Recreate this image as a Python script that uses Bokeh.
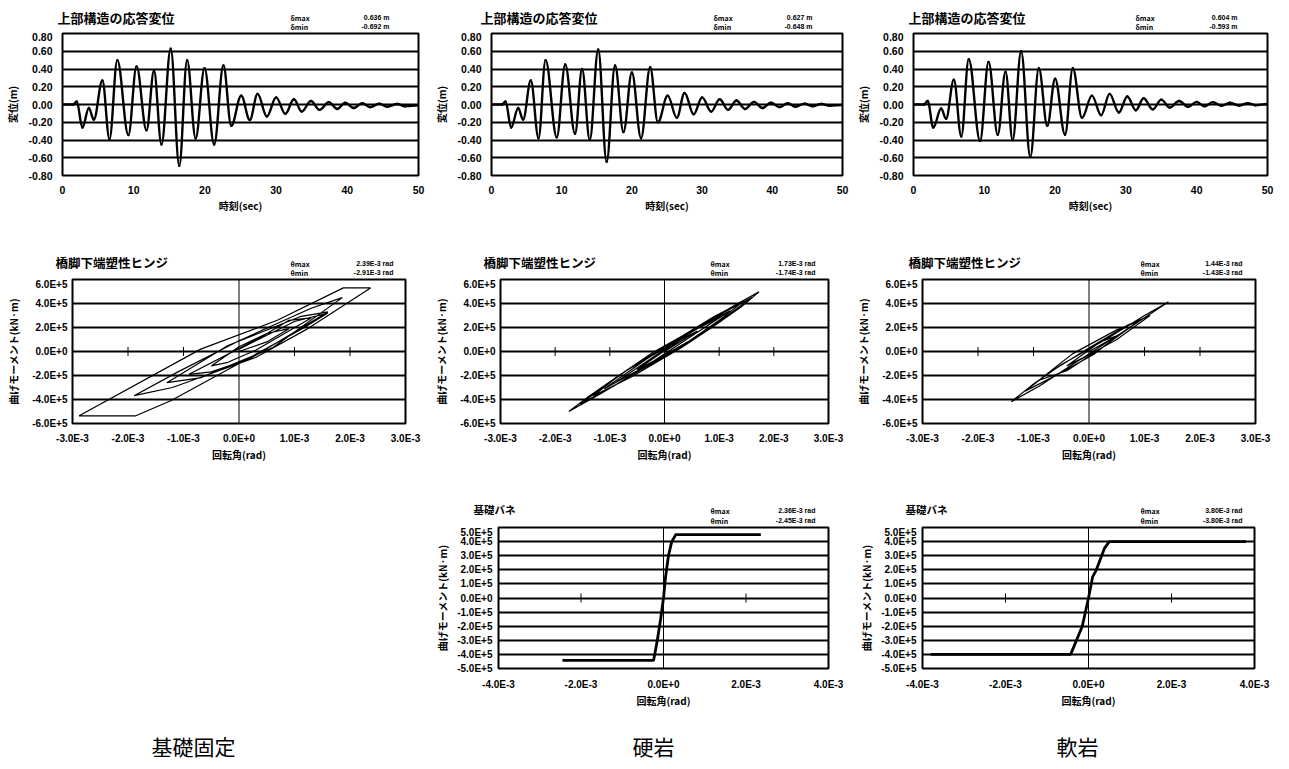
import numpy as np
from bokeh.plotting import figure
from bokeh.models import Label, FixedTicker, Span, Spacer, CustomJSTickFormatter, Range1d
from bokeh.layouts import column, row
from bokeh.embed import file_html
from bokeh.resources import INLINE

JP = "Noto Sans CJK JP"
NUM = "Liberation Sans"

# ---------------- tick labels ----------------
time_ticks = [0, 10, 20, 30, 40, 50]
time_labels = ["0", "10", "20", "30", "40", "50"]
disp_ticks = [-0.8, -0.6, -0.4, -0.2, 0.0, 0.2, 0.4, 0.6, 0.8]
disp_labels = ["-0.80", "-0.60", "-0.40", "-0.20", "0.00", "0.20", "0.40", "0.60", "0.80"]
hinge_x_ticks = [-3e-3, -2e-3, -1e-3, 0.0, 1e-3, 2e-3, 3e-3]
hinge_x_labels = ["-3.0E-3", "-2.0E-3", "-1.0E-3", "0.0E+0", "1.0E-3", "2.0E-3", "3.0E-3"]
hinge_y_ticks = [-6e5, -4e5, -2e5, 0.0, 2e5, 4e5, 6e5]
hinge_y_labels = ["-6.0E+5", "-4.0E+5", "-2.0E+5", "0.0E+0", "2.0E+5", "4.0E+5", "6.0E+5"]
spring_x_ticks = [-4e-3, -2e-3, 0.0, 2e-3, 4e-3]
spring_x_labels = ["-4.0E-3", "-2.0E-3", "0.0E+0", "2.0E-3", "4.0E-3"]
spring_y_ticks = [-5e5, -4e5, -3e5, -2e5, -1e5, 0.0, 1e5, 2e5, 3e5, 4e5, 5e5]
spring_y_labels = ["-5.0E+5", "-4.0E+5", "-3.0E+5", "-2.0E+5", "-1.0E+5", "0.0E+0",
                   "1.0E+5", "2.0E+5", "3.0E+5", "4.0E+5", "5.0E+5"]

# ---------------- texts ----------------
case_names = ["基礎固定", "硬岩", "軟岩"]
title_disp = "上部構造の応答変位"
title_hinge = "橋脚下端塑性ヒンジ"
title_spring = "基礎バネ"
disp_max = ["0.636 m", "0.627 m", "0.604 m"]
disp_min = ["-0.692 m", "-0.648 m", "-0.593 m"]
hinge_max = ["2.39E-3 rad", "1.73E-3 rad", "1.44E-3 rad"]
hinge_min = ["-2.91E-3 rad", "-1.74E-3 rad", "-1.43E-3 rad"]
spring_max = ["2.36E-3 rad", "3.80E-3 rad"]
spring_min = ["-2.45E-3 rad", "-3.80E-3 rad"]

# ---------------- displacement histories (turning points: sec, m) ----------------
t_fixed = [0, 1.5, 2.0, 2.8, 3.7, 4.4, 5.6, 6.6, 7.7, 9.25, 10.4, 11.8, 12.85, 13.9, 15.2, 16.4,
           17.5, 18.7, 19.95, 21.3, 22.6, 23.7, 25.1, 26.3, 27.4, 28.7, 30.0, 31.3, 32.5, 33.6,
           34.9, 36.1, 37.4, 38.6, 39.7, 40.9, 42.1, 43.2, 44.5, 45.6, 47.0, 48.1, 50.0]
d_fixed = [0, 0, 0.035, -0.26, -0.04, -0.17, 0.27, -0.39, 0.50, -0.345, 0.43, -0.29, 0.38, -0.45,
           0.63, -0.69, 0.50, -0.38, 0.41, -0.45, 0.44, -0.24, 0.10, -0.175, 0.12, -0.135, 0.08,
           -0.105, 0.06, -0.08, 0.04, -0.06, 0.027, -0.05, 0.02, -0.04, 0.015, -0.03, 0.01,
           -0.025, 0.005, -0.02, -0.01]
t_hard = [0, 1.5, 2.0, 2.8, 3.8, 4.5, 5.6, 6.7, 7.7, 9.3, 10.5, 11.9, 12.9, 14.0, 15.2, 16.4,
          17.6, 18.8, 20.0, 21.3, 22.6, 23.7, 25.1, 26.4, 27.5, 28.8, 30.0, 31.3, 32.5, 33.7,
          34.9, 36.1, 37.4, 38.6, 39.8, 41.0, 42.2, 43.3, 44.6, 45.7, 47.0, 48.2, 50.0]
d_hard = [0, 0, 0.035, -0.26, -0.04, -0.17, 0.27, -0.38, 0.50, -0.37, 0.45, -0.33, 0.40, -0.40,
          0.62, -0.645, 0.44, -0.31, 0.36, -0.38, 0.42, -0.20, 0.10, -0.15, 0.13, -0.11, 0.08,
          -0.08, 0.06, -0.06, 0.045, -0.05, 0.03, -0.04, 0.02, -0.03, 0.015, -0.025, 0.01,
          -0.02, 0.005, -0.015, -0.005]
t_soft = [0, 1.5, 2.0, 2.8, 3.9, 4.6, 5.7, 6.75, 7.8, 9.4, 10.6, 11.9, 13.0, 14.0, 15.2, 16.5,
          17.7, 18.9, 20.0, 21.4, 22.5, 23.8, 25.2, 26.5, 27.7, 29.0, 30.2, 31.4, 32.5, 33.8,
          35.0, 36.2, 37.5, 38.8, 40.0, 41.1, 42.3, 43.5, 44.7, 46.0, 47.2, 48.3, 50.0]
d_soft = [0, 0, 0.04, -0.26, -0.045, -0.16, 0.28, -0.36, 0.51, -0.41, 0.48, -0.34, 0.37, -0.40,
          0.60, -0.59, 0.41, -0.24, 0.29, -0.34, 0.41, -0.15, 0.10, -0.12, 0.12, -0.09, 0.09,
          -0.065, 0.07, -0.055, 0.055, -0.035, 0.04, -0.027, 0.03, -0.02, 0.027, -0.015, 0.02,
          -0.012, 0.015, -0.008, 0.005]

# ---------------- pier-base hinge (rotation 1e-3 rad, moment 1e5 kN·m) ----------------
hinge_th_fixed = [0.0, 0.5, 0.9, 0.5, 0.0, -0.5, -0.2, 0.3,
                  1.3, 0.9, 0.4, -0.9, -0.5, 0.2,
                  1.6, 1.1, -0.2, -1.3, -0.7, 0.6,
                  1.86, 1.3, 0.0, -1.1, -1.89, -1.2, 0.3, 1.2,
                  2.37, 1.88, 0.69, -0.69, -2.88, -1.86, -1.23, 0.0, 1.14, 1.6, 1.0, 0.0]
hinge_m_fixed = [0.0, 0.8, 1.9, 1.5, 0.4, -1.2, -0.9, 0.1,
                 2.8, 2.6, 1.2, -1.9, -1.7, -0.6,
                 3.3, 2.9, 0.5, -2.6, -2.2, 0.3,
                 4.49, 3.6, 0.9, -1.7, -3.68, -3.0, -0.5, 1.8,
                 5.3, 5.3, 2.6, 0.2, -5.36, -5.36, -4.1, -1.0, 1.9, 3.2, 2.5, 0.2]
hinge_th_hard = [0.0, 0.6, 0.3, -0.5, -0.2, 1.0, 0.5, -0.9, -0.4, 1.2, 0.7, -0.1, -1.1, -0.5,
                 0.3, 1.0, 1.45, 0.9, 0.0, -0.8, -1.3, -0.6, 0.3, 0.9, 1.4, 1.73, 1.3, 0.6,
                 -0.2, -0.9, -1.4, -1.75, -1.2, -0.5, 0.2, 1.0, 1.6, 1.1, 0.2, -0.7, -1.55, -0.9,
                 0.0, 0.5]
hinge_m_hard = [0.0, 1.7, 1.0, -1.5, -0.8, 2.8, 1.7, -2.6, -1.4, 3.4, 2.2, 0.1, -3.1, -1.6,
                0.4, 2.6, 4.2, 2.9, 0.4, -1.9, -3.7, -2.1, 0.3, 2.1, 3.7, 4.97, 3.9, 2.0,
                -0.05, -2.2, -3.8, -5.0, -3.6, -1.7, 0.1, 2.5, 4.5, 3.3, 0.8, -1.6, -4.4, -2.8,
                -0.3, 1.0]
hinge_th_soft = [0.0, 0.5, 0.2, -0.4, -0.1, 0.9, 0.5, -0.3, -0.9, -0.4, 0.2, 0.8, 1.43, 1.0,
                 0.3, -0.5, -1.0, -1.40, -0.9, -0.2, 0.5, 1.1, 0.7, 0.0, -0.7, -1.15, -0.6,
                 0.1, 0.4]
hinge_m_soft = [0.0, 1.3, 0.8, -1.2, -0.5, 2.5, 1.8, -0.2, -2.4, -1.6, 0.2, 2.2, 4.13, 3.0,
                1.0, -1.1, -2.7, -4.18, -2.9, -0.8, 1.0, 3.0, 2.2, 0.3, -1.7, -3.3, -2.0,
                -0.2, 0.9]

# ---------------- foundation spring (rotation 1e-3 rad, moment 1e5 kN·m) ----------------
spring_th_hard = [-2.45, -0.24, -0.15, -0.07, 0.0, 0.05, 0.12, 0.2, 0.3, 2.36]
spring_m_hard = [-4.43, -4.43, -3.0, -1.5, 0.0, 1.5, 3.0, 4.0, 4.5, 4.5]
spring_th_soft = [-3.80, -0.43, -0.15, 0.0, 0.1, 0.19, 0.38, 0.5, 3.80]
spring_m_soft = [-4.0, -4.0, -2.0, 0.0, 1.5, 2.0, 3.5, 4.0, 4.0]


def fmt(ticks, labels):
    return CustomJSTickFormatter(args=dict(tv=list(ticks), tl=list(labels)), code="""
        let b = 0;
        for (let k = 0; k < tv.length; k++) {
            if (Math.abs(tv[k] - tick) < Math.abs(tv[b] - tick)) b = k;
        }
        return tl[b];
    """)


def panel(w, h, left, right, top, bottom, xr, yr, xt, xl, yt, yl, xlab, ylab,
          tick_fs, lab_fs, xstand, ystand, xlstand, ylstand):
    p = figure(width=w, height=h, x_range=Range1d(*xr), y_range=Range1d(*yr),
               output_backend="svg", toolbar_location=None,
               min_border_left=left, min_border_right=right,
               min_border_top=top, min_border_bottom=bottom)
    p.background_fill_color = "white"
    p.border_fill_color = "white"
    p.outline_line_color = "black"
    p.outline_line_width = 2
    p.xgrid.visible = False
    p.ygrid.ticker = FixedTicker(ticks=yt)
    p.ygrid.grid_line_color = "black"
    p.ygrid.grid_line_width = 2
    p.xaxis.ticker = FixedTicker(ticks=xt)
    p.yaxis.ticker = FixedTicker(ticks=yt)
    p.xaxis.formatter = fmt(xt, xl)
    p.yaxis.formatter = fmt(yt, yl)
    for ax in (p.xaxis, p.yaxis):
        ax.axis_line_color = None
        ax.major_tick_line_color = None
        ax.minor_tick_line_color = None
        ax.major_tick_out = 0
        ax.major_tick_in = 0
        ax.minor_tick_out = 0
        ax.major_label_text_font = NUM
        ax.major_label_text_font_style = "bold"
        ax.major_label_text_font_size = f"{tick_fs}px"
        ax.major_label_text_color = "black"
        ax.axis_label_text_font = JP
        ax.axis_label_text_font_style = "bold"
        ax.axis_label_text_font_size = f"{lab_fs}px"
        ax.axis_label_text_color = "black"
    p.xaxis.axis_label = xlab
    p.yaxis.axis_label = ylab
    p.xaxis.major_label_standoff = xstand
    p.yaxis.major_label_standoff = ystand
    p.xaxis.axis_label_standoff = xlstand
    p.yaxis.axis_label_standoff = ylstand
    return p


def header(w, h):
    f = figure(width=w, height=h, x_range=Range1d(0, w), y_range=Range1d(0, h),
               output_backend="svg", toolbar_location=None, min_border=0)
    f.axis.visible = False
    f.grid.visible = False
    f.outline_line_color = None
    f.background_fill_color = "white"
    f.border_fill_color = "white"
    return f


def lab(p, x, y, text, size, align="left", bold=True, font=JP):
    p.add_layout(Label(x=x, y=y, x_units="screen", y_units="screen", text=text,
                       text_font=font, text_font_size=f"{size}px",
                       text_font_style="bold" if bold else "normal",
                       text_align=align, text_baseline="middle", text_color="black"))


def smooth(p, t, d, **kw):
    t = np.asarray(t, float)
    d = np.asarray(d, float)
    x0, x1, y0, y1 = t[:-1], t[1:], d[:-1], d[1:]
    k = 0.3642 * (x1 - x0)
    p.bezier(x0=x0, y0=y0, x1=x1, y1=y1, cx0=x0 + k, cy0=y0, cx1=x1 - k, cy1=y1, **kw)


W = 1289

# ---------------- row 1 : displacement ----------------
hd1 = header(W, 32)
# (figure width, border left, border right, title x, stats x, values right x)
row1_geo = [(430, 62, 12, 57, 290, 389), (422, 55, 10, 480, 713, 812), (437, 61, 22, 908, 1135, 1237)]
row1_data = [(t_fixed, d_fixed), (t_hard, d_hard), (t_soft, d_soft)]
row1 = []
for i, ((w, l, r, tx, sx, vx), (tt, dd)) in enumerate(zip(row1_geo, row1_data)):
    lab(hd1, tx, 15, title_disp, 13)
    lab(hd1, sx, 15, "δmax", 7)
    lab(hd1, sx, 6, "δmin", 7)
    lab(hd1, vx, 15, disp_max[i], 7, align="right", font=NUM)
    lab(hd1, vx, 6, disp_min[i], 7, align="right", font=NUM)
    p = panel(w, 198, l, r, 1, 55, (0, 50), (-0.8, 0.8), time_ticks, time_labels,
              disp_ticks, disp_labels, "時刻(sec)", "変位(m)", 10.5, 10, 10, 10, 1, 6)
    smooth(p, tt, dd, line_color="black", line_width=2.4, line_cap="round")
    row1.append(p)

# ---------------- row 2 : pier-base hinge ----------------
hd2 = header(W, 48)
row2_geo = [(430, 72, 25, 55, 290, 393), (422, 70, 24, 483, 710, 815), (437, 70, 34, 908, 1140, 1242)]
row2_data = [(hinge_th_fixed, hinge_m_fixed), (hinge_th_hard, hinge_m_hard),
             (hinge_th_soft, hinge_m_soft)]
row2 = []
for i, ((w, l, r, tx, sx, vx), (th, mm)) in enumerate(zip(row2_geo, row2_data)):
    lab(hd2, tx, 16, title_hinge, 12.5)
    lab(hd2, sx, 15, "θmax", 7)
    lab(hd2, sx, 6, "θmin", 7)
    lab(hd2, vx, 15, hinge_max[i], 7, align="right", font=NUM)
    lab(hd2, vx, 6, hinge_min[i], 7, align="right", font=NUM)
    p = panel(w, 192, l, r, 1, 47, (-3e-3, 3e-3), (-6e5, 6e5), hinge_x_ticks, hinge_x_labels,
              hinge_y_ticks, hinge_y_labels, "回転角(rad)", "曲げモーメント(kN·m)", 10, 10, 9, 5, 0, 8)
    p.add_layout(Span(location=0, dimension="height", line_color="black", line_width=1))
    p.scatter(x=[t for t in hinge_x_ticks if 0 < abs(t) < 2.5e-3], y=0, marker="dash",
              angle=np.pi / 2, size=9, line_color="black", line_width=1)
    p.line(np.asarray(th) * 1e-3, np.asarray(mm) * 1e5, line_color="black", line_width=1.2)
    row2.append(p)

# ---------------- row 3 : foundation spring ----------------
hd3 = header(W, 56)
row3_geo = [(422, 68, 24, 473, 710, 815), (437, 70, 35, 905, 1140, 1242)]
row3_data = [(spring_th_hard, spring_m_hard), (spring_th_soft, spring_m_soft)]
row3 = [Spacer(width=430, height=189)]
for i, ((w, l, r, tx, sx, vx), (th, mm)) in enumerate(zip(row3_geo, row3_data)):
    lab(hd3, tx, 17, title_spring, 10.5)
    lab(hd3, sx, 16, "θmax", 7)
    lab(hd3, sx, 6, "θmin", 7)
    lab(hd3, vx, 16, spring_max[i], 7, align="right", font=NUM)
    lab(hd3, vx, 6, spring_min[i], 7, align="right", font=NUM)
    p = panel(w, 189, l, r, 1, 47, (-4e-3, 4e-3), (-5e5, 5e5), spring_x_ticks, spring_x_labels,
              spring_y_ticks, spring_y_labels, "回転角(rad)", "曲げモーメント(kN·m)", 10, 10, 10, 6, 0, 4)
    p.add_layout(Span(location=0, dimension="height", line_color="black", line_width=1))
    p.scatter(x=[t for t in spring_x_ticks if 0 < abs(t) < 3e-3], y=0, marker="dash",
              angle=np.pi / 2, size=9, line_color="black", line_width=1)
    p.line(np.asarray(th) * 1e-3, np.asarray(mm) * 1e5, line_color="black", line_width=2.8)
    row3.append(p)

# ---------------- captions ----------------
cap = header(W, 46)
for name, cx in zip(case_names, [193, 653, 1077]):
    lab(cap, cx, 16, name, 21, align="center", bold=False)

layout = column(hd1, row(*row1), hd2, row(*row2), hd3, row(*row3), cap)
open("out.html", "w").write(file_html(layout, INLINE))
